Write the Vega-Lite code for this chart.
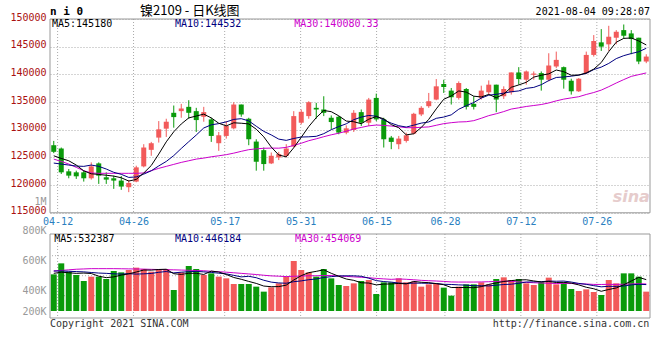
{
"$schema": "https://vega.github.io/schema/vega-lite/v6.json",
"width": 600, "height": 299,
"autosize": {"type": "none"},
"padding": {"left": 50, "top": 19, "right": 10, "bottom": 42},
"background": "#ffffff",
"config": {"view": {"stroke": null}, "axis": {"labelFont": "DejaVu Sans Mono", "labelFontSize": 10}, "text": {"font": "DejaVu Sans Mono", "fontSize": 10}},
"datasets": {"one": [{}], "k": [
{"d":"04-09","o":127206,"h":127983,"l":125773,"c":126012,"v":623000,"m5":125295,"m10":123981,"m30":124698,"v5":640000,"v10":680000,"v30":680000},
{"d":"04-12","o":126609,"h":126788,"l":122010,"c":122308,"v":810000,"m5":124818,"m10":123802,"m30":124280,"v5":660000,"v10":680000,"v30":690000},
{"d":"04-13","o":122488,"h":122906,"l":121233,"c":121711,"v":669000,"m5":124399,"m10":123623,"m30":123802,"v5":650000,"v10":675000,"v30":700000},
{"d":"04-14","o":122308,"h":122607,"l":121115,"c":121591,"v":612000,"m5":123623,"m10":123443,"m30":123205,"v5":640000,"v10":670000,"v30":710000},
{"d":"04-15","o":122308,"h":122607,"l":120636,"c":121233,"v":510000,"m5":122571,"m10":123384,"m30":122608,"v5":645000,"v10":665000,"v30":715000},
{"d":"04-16","o":121233,"h":124101,"l":120995,"c":123384,"v":584000,"m5":122045,"m10":123623,"m30":122190,"v5":637000,"v10":655000,"v30":720000},
{"d":"04-19","o":123921,"h":124101,"l":120218,"c":121711,"v":584000,"m5":121926,"m10":123384,"m30":122130,"v5":592000,"v10":645000,"v30":720000},
{"d":"04-20","o":121413,"h":122308,"l":120218,"c":120995,"v":544000,"m5":121783,"m10":122906,"m30":122130,"v5":567000,"v10":640000,"v30":720000},
{"d":"04-21","o":121233,"h":121711,"l":119322,"c":120815,"v":680000,"m5":121628,"m10":122309,"m30":122130,"v5":580000,"v10":632000,"v30":720000},
{"d":"04-22","o":120815,"h":121651,"l":119143,"c":119740,"v":657000,"m5":121329,"m10":121950,"m30":122130,"v5":610000,"v10":627000,"v30":718000},
{"d":"04-23","o":119621,"h":120935,"l":118725,"c":120397,"v":697000,"m5":120732,"m10":121389,"m30":122130,"v5":632000,"v10":635000,"v30":716000},
{"d":"04-26","o":120636,"h":123503,"l":120517,"c":123204,"v":737000,"m5":121030,"m10":121478,"m30":122130,"v5":663000,"v10":627000,"v30":714000},
{"d":"04-27","o":123384,"h":127386,"l":123204,"c":126789,"v":714000,"m5":122189,"m10":121986,"m30":122190,"v5":697000,"v10":632000,"v30":712000},
{"d":"04-28","o":126370,"h":127804,"l":125295,"c":127565,"v":669000,"m5":123539,"m10":122583,"m30":122608,"v5":695000,"v10":638000,"v30":708000},
{"d":"04-29","o":128580,"h":131567,"l":127684,"c":130073,"v":714000,"m5":125606,"m10":123467,"m30":123026,"v5":706000,"v10":658000,"v30":705000},
{"d":"04-30","o":130193,"h":131985,"l":128700,"c":131447,"v":714000,"m5":127816,"m10":124274,"m30":123384,"v5":710000,"v10":671000,"v30":702000},
{"d":"05-06","o":133060,"h":134374,"l":130372,"c":132284,"v":357000,"m5":129632,"m10":125331,"m30":123743,"v5":634000,"v10":648000,"v30":700000},
{"d":"05-07","o":133359,"h":134673,"l":132164,"c":133837,"v":657000,"m5":131041,"m10":126615,"m30":124101,"v5":622000,"v10":660000,"v30":696000},
{"d":"05-10","o":134135,"h":135330,"l":131985,"c":133060,"v":765000,"m5":132140,"m10":127840,"m30":124399,"v5":641000,"v10":668000,"v30":692000},
{"d":"05-11","o":133359,"h":133956,"l":129596,"c":131746,"v":714000,"m5":132475,"m10":129040,"m30":124698,"v5":641000,"v10":674000,"v30":688000},
{"d":"05-12","o":132343,"h":134135,"l":131447,"c":133180,"v":612000,"m5":132821,"m10":130319,"m30":124877,"v5":621000,"v10":665000,"v30":684000},
{"d":"05-13","o":131865,"h":132164,"l":127804,"c":128879,"v":640000,"m5":132140,"m10":130886,"m30":125116,"v5":678000,"v10":656000,"v30":676000},
{"d":"05-14","o":127565,"h":129596,"l":126191,"c":128999,"v":584000,"m5":131173,"m10":131107,"m30":125295,"v5":663000,"v10":643000,"v30":668000},
{"d":"05-17","o":128879,"h":131567,"l":128401,"c":130671,"v":555000,"m5":130695,"m10":131418,"m30":125500,"v5":621000,"v10":631000,"v30":660000},
{"d":"05-18","o":130253,"h":134971,"l":130073,"c":134553,"v":459000,"m5":131256,"m10":131866,"m30":125773,"v5":570000,"v10":606000,"v30":650000},
{"d":"05-19","o":134553,"h":134553,"l":132343,"c":132761,"v":459000,"m5":131173,"m10":131997,"m30":126100,"v5":539000,"v10":580000,"v30":640000},
{"d":"05-20","o":131985,"h":132164,"l":127207,"c":128282,"v":459000,"m5":131053,"m10":131597,"m30":126400,"v5":503000,"v10":590000,"v30":630000},
{"d":"05-21","o":127863,"h":128282,"l":122607,"c":124220,"v":414000,"m5":130097,"m10":130635,"m30":126550,"v5":469000,"v10":566000,"v30":620000},
{"d":"05-24","o":126311,"h":126789,"l":122607,"c":123802,"v":329000,"m5":128724,"m10":129709,"m30":126650,"v5":424000,"v10":523000,"v30":608000},
{"d":"05-25","o":123921,"h":125892,"l":123800,"c":125295,"v":402000,"m5":126872,"m10":129064,"m30":126685,"v5":413000,"v10":491000,"v30":597000},
{"d":"05-26","o":124997,"h":126012,"l":124519,"c":125594,"v":470000,"m5":125439,"m10":128306,"m30":126671,"v5":415000,"v10":477000,"v30":592000},
{"d":"05-27","o":125295,"h":127386,"l":124997,"c":126609,"v":584000,"m5":125104,"m10":128079,"m30":126814,"v5":440000,"v10":472000,"v30":585000},
{"d":"05-28","o":126968,"h":133359,"l":126789,"c":132463,"v":850000,"m5":126753,"m10":128425,"m30":127173,"v5":527000,"v10":498000,"v30":591000},
{"d":"05-31","o":131268,"h":133657,"l":130969,"c":133239,"v":697000,"m5":128640,"m10":128682,"m30":127561,"v5":601000,"v10":512000,"v30":594000},
{"d":"06-01","o":132463,"h":135150,"l":131985,"c":134971,"v":657000,"m5":130575,"m10":128724,"m30":128019,"v5":652000,"v10":532000,"v30":599000},
{"d":"06-02","o":133956,"h":134852,"l":131985,"c":133657,"v":584000,"m5":132188,"m10":128813,"m30":128361,"v5":674000,"v10":545000,"v30":599000},
{"d":"06-03","o":133657,"h":136046,"l":132463,"c":133060,"v":714000,"m5":133478,"m10":129291,"m30":128740,"v5":700000,"v10":570000,"v30":603000},
{"d":"06-04","o":132164,"h":132582,"l":130073,"c":131388,"v":555000,"m5":133263,"m10":130008,"m30":129086,"v5":641000,"v10":584000,"v30":603000},
{"d":"06-07","o":132343,"h":132463,"l":129178,"c":129476,"v":442000,"m5":132510,"m10":130575,"m30":129375,"v5":590000,"v10":596000,"v30":595000},
{"d":"06-08","o":129476,"h":130790,"l":129178,"c":130253,"v":425000,"m5":131567,"m10":131071,"m30":129725,"v5":544000,"v10":598000,"v30":588000},
{"d":"06-09","o":129954,"h":133538,"l":129596,"c":133060,"v":470000,"m5":131447,"m10":131818,"m30":130147,"v5":521000,"v10":598000,"v30":580000},
{"d":"06-10","o":133180,"h":133657,"l":130671,"c":131268,"v":510000,"m5":131089,"m10":132284,"m30":130416,"v5":480000,"v10":590000,"v30":573000},
{"d":"06-11","o":131268,"h":135748,"l":130671,"c":135449,"v":527000,"m5":131901,"m10":132582,"m30":130705,"v5":475000,"v10":558000,"v30":566000},
{"d":"06-15","o":135748,"h":136524,"l":131567,"c":131865,"v":289000,"m5":132379,"m10":132445,"m30":130848,"v5":444000,"v10":517000,"v30":554000},
{"d":"06-16","o":131865,"h":132164,"l":126788,"c":128282,"v":487000,"m5":131985,"m10":131776,"m30":130788,"v5":457000,"v10":500000,"v30":546000},
{"d":"06-17","o":128580,"h":128879,"l":126490,"c":127804,"v":487000,"m5":130934,"m10":131191,"m30":130667,"v5":460000,"v10":491000,"v30":538000},
{"d":"06-18","o":127386,"h":128879,"l":126490,"c":128401,"v":555000,"m5":130360,"m10":130725,"m30":130537,"v5":469000,"v10":475000,"v30":545000},
{"d":"06-21","o":127983,"h":129476,"l":127684,"c":128999,"v":487000,"m5":129070,"m10":130486,"m30":130376,"v5":461000,"v10":468000,"v30":539000},
{"d":"06-22","o":129297,"h":133060,"l":129178,"c":132881,"v":499000,"m5":129273,"m10":130826,"m30":130370,"v5":503000,"v10":474000,"v30":531000},
{"d":"06-23","o":132762,"h":134255,"l":132463,"c":133956,"v":414000,"m5":130408,"m10":131197,"m30":130444,"v5":488000,"v10":473000,"v30":521000},
{"d":"06-24","o":134255,"h":136644,"l":133956,"c":135151,"v":453000,"m5":131878,"m10":131406,"m30":130510,"v5":482000,"v10":471000,"v30":515000},
{"d":"06-25","o":135449,"h":139153,"l":135330,"c":137839,"v":470000,"m5":133765,"m10":132063,"m30":130808,"v5":465000,"v10":467000,"v30":510000},
{"d":"06-28","o":138257,"h":139033,"l":136644,"c":137719,"v":397000,"m5":135509,"m10":132290,"m30":131099,"v5":447000,"v10":454000,"v30":503000},
{"d":"06-29","o":137062,"h":137540,"l":134553,"c":135868,"v":261000,"m5":136107,"m10":132690,"m30":131272,"v5":399000,"v10":451000,"v30":494000},
{"d":"06-30","o":135748,"h":138735,"l":135449,"c":138436,"v":414000,"m5":137003,"m10":133705,"m30":131402,"v5":399000,"v10":444000,"v30":492000},
{"d":"07-01","o":137361,"h":137540,"l":133657,"c":134135,"v":453000,"m5":136799,"m10":134339,"m30":131447,"v5":399000,"v10":440000,"v30":492000},
{"d":"07-02","o":134673,"h":136047,"l":133657,"c":134135,"v":453000,"m5":136059,"m10":134912,"m30":131643,"v5":396000,"v10":430000,"v30":492000},
{"d":"07-05","o":135748,"h":137958,"l":135449,"c":137062,"v":487000,"m5":135927,"m10":135718,"m30":132071,"v5":414000,"v10":430000,"v30":494000},
{"d":"07-06","o":136764,"h":138914,"l":136345,"c":138137,"v":453000,"m5":136381,"m10":136244,"m30":132548,"v5":452000,"v10":426000,"v30":498000},
{"d":"07-07","o":138137,"h":138137,"l":133180,"c":135449,"v":544000,"m5":135784,"m10":136393,"m30":132887,"v5":478000,"v10":439000,"v30":503000},
{"d":"07-08","o":136047,"h":137839,"l":135569,"c":137361,"v":572000,"m5":136429,"m10":136614,"m30":133279,"v5":502000,"v10":450000,"v30":506000},
{"d":"07-09","o":136764,"h":140347,"l":136345,"c":140347,"v":527000,"m5":137671,"m10":136865,"m30":133737,"v5":517000,"v10":456000,"v30":504000},
{"d":"07-12","o":140347,"h":141303,"l":138137,"c":139153,"v":544000,"m5":138089,"m10":137008,"m30":133960,"v5":528000,"v10":471000,"v30":494000},
{"d":"07-13","o":139033,"h":140706,"l":138137,"c":140527,"v":470000,"m5":138567,"m10":137474,"m30":134203,"v5":531000,"v10":492000,"v30":487000},
{"d":"07-14","o":139930,"h":140527,"l":139034,"c":140150,"v":442000,"m5":139508,"m10":137646,"m30":134376,"v5":511000,"v10":495000,"v30":480000},
{"d":"07-15","o":140228,"h":140527,"l":137063,"c":139034,"v":487000,"m5":139842,"m10":138136,"m30":134555,"v5":494000,"v10":498000,"v30":476000},
{"d":"07-16","o":139034,"h":143812,"l":138735,"c":141602,"v":567000,"m5":140093,"m10":138882,"m30":134840,"v5":502000,"v10":509000,"v30":471000},
{"d":"07-19","o":141423,"h":144111,"l":141124,"c":142617,"v":453000,"m5":140786,"m10":139438,"m30":135214,"v5":484000,"v10":506000,"v30":468000},
{"d":"07-20","o":141303,"h":141423,"l":137421,"c":139034,"v":487000,"m5":140487,"m10":139527,"m30":135532,"v5":487000,"v10":509000,"v30":469000},
{"d":"07-21","o":138854,"h":139213,"l":136346,"c":136943,"v":374000,"m5":139846,"m10":139677,"m30":135755,"v5":474000,"v10":492000,"v30":468000},
{"d":"07-22","o":136943,"h":139332,"l":136824,"c":139213,"v":340000,"m5":139882,"m10":139862,"m30":135961,"v5":444000,"v10":469000,"v30":463000},
{"d":"07-23","o":140228,"h":144111,"l":140049,"c":143513,"v":368000,"m5":140264,"m10":140179,"m30":136369,"v5":404000,"v10":453000,"v30":459000},
{"d":"07-26","o":143513,"h":147097,"l":143215,"c":146022,"v":323000,"m5":140945,"m10":140866,"m30":136721,"v5":378000,"v10":431000,"v30":452000},
{"d":"07-27","o":145783,"h":148172,"l":144230,"c":145007,"v":272000,"m5":142140,"m10":141314,"m30":137159,"v5":335000,"v10":411000,"v30":451000},
{"d":"07-28","o":145425,"h":148770,"l":144230,"c":146799,"v":527000,"m5":144111,"m10":141978,"m30":137776,"v5":366000,"v10":420000,"v30":453000},
{"d":"07-29","o":146619,"h":147993,"l":145425,"c":147695,"v":470000,"m5":145807,"m10":142845,"m30":138440,"v5":392000,"v10":418000,"v30":452000},
{"d":"07-30","o":147993,"h":149009,"l":146500,"c":146978,"v":640000,"m5":146500,"m10":143382,"m30":139059,"v5":446000,"v10":425000,"v30":455000},
{"d":"08-02","o":147396,"h":147993,"l":143633,"c":146381,"v":640000,"m5":146572,"m10":143759,"m30":139638,"v5":510000,"v10":444000,"v30":460000},
{"d":"08-03","o":146619,"h":146619,"l":141841,"c":142319,"v":584000,"m5":146034,"m10":144087,"m30":139953,"v5":572000,"v10":454000,"v30":463000},
{"d":"08-04","o":142319,"h":143633,"l":142020,"c":143215,"v":329000,"m5":145318,"m10":144714,"m30":140261,"v5":533000,"v10":449000,"v30":460000}
]},
"resolve": {"scale": {"x": "independent", "y": "independent"}, "axis": {"x": "independent", "y": "independent"}},
"layer": [
{
 "data": {"name": "k"},
 "layer": [
  {"mark": {"type": "point", "opacity": 0}, "encoding": {"x": {"field": "d", "type": "ordinal", "scale": {"type": "point", "padding": 0}, "axis": {"values": ["04-12","04-26","05-17","05-31","06-15","06-28","07-12","07-26"], "orient": "bottom", "offset": -105, "labelAngle": 0, "domain": false, "ticks": false, "tickSize": 0, "grid": false, "labelColor": "#2a7fbf", "labelPadding": 3, "labelOverlap": false, "title": null}}}},
  {"transform": [{"filter": {"field": "d", "oneOf": ["04-12","04-26","05-17","05-31","06-15","06-28","07-12","07-26"]}}], "mark": {"type": "rule", "color": "#aaaaaa", "strokeDash": [1, 2]}, "encoding": {"x": {"field": "d", "type": "ordinal"}, "y": {"datum": 150000, "scale": {"domain": [96000, 150000], "nice": false, "zero": false}, "axis": null}, "y2": {"datum": 115000}}},
  {"transform": [{"filter": {"field": "d", "oneOf": ["04-12","04-26","05-17","05-31","06-15","06-28","07-12","07-26"]}}], "mark": {"type": "rule", "color": "#aaaaaa", "strokeDash": [1, 2]}, "encoding": {"x": {"field": "d", "type": "ordinal"}, "y": {"datum": 111171, "axis": null}, "y2": {"datum": 96000}}}
 ]
},
{
 "data": {"name": "k"},
 "layer": [
  {"mark": {"type": "rule", "strokeWidth": 1}, "encoding": {
    "x": {"field": "d", "type": "ordinal", "scale": {"type": "band", "paddingInner": 0, "paddingOuter": 0}, "axis": null},
    "y": {"field": "l", "type": "quantitative", "scale": {"domain": [96000, 150000], "nice": false, "zero": false}, "axis": {"orient": "left", "values": [115000,120000,125000,130000,135000,140000,145000,150000], "format": "d", "grid": true, "gridColor": "#aaaaaa", "gridDash": [1, 2], "domain": false, "ticks": false, "tickSize": 0, "labelPadding": 4, "labelColor": "#aa1111", "labelOffset": -2, "labelOverlap": false, "title": null}},
    "y2": {"field": "h"},
    "color": {"condition": {"test": "datum.c >= datum.o", "value": "#f25a5a"}, "value": "#0a9a0a"}}},
  {"mark": {"type": "bar", "width": 5}, "encoding": {
    "x": {"field": "d", "type": "ordinal"},
    "y": {"field": "o", "type": "quantitative"},
    "y2": {"field": "c"},
    "color": {"condition": {"test": "datum.c >= datum.o", "value": "#f25a5a"}, "value": "#0a9a0a"}}},
  {"mark": {"type": "line", "strokeWidth": 1, "color": "#cc00cc"}, "encoding": {"x": {"field": "d", "type": "ordinal"}, "y": {"field": "m30", "type": "quantitative"}}},
  {"mark": {"type": "line", "strokeWidth": 1, "color": "#000080"}, "encoding": {"x": {"field": "d", "type": "ordinal"}, "y": {"field": "m10", "type": "quantitative"}}},
  {"mark": {"type": "line", "strokeWidth": 1, "color": "#000000"}, "encoding": {"x": {"field": "d", "type": "ordinal"}, "y": {"field": "m5", "type": "quantitative"}}},
  {"data": {"name": "one"}, "mark": {"type": "rule", "color": "#999999"}, "encoding": {"y": {"datum": 150000}}},
  {"data": {"name": "one"}, "mark": {"type": "rule", "color": "#999999"}, "encoding": {"y": {"datum": 115000}}},
  {"data": {"values": [{"d": "04-09"}]}, "mark": {"type": "rule", "color": "#999999"}, "encoding": {"x": {"field": "d", "type": "ordinal", "bandPosition": 0}, "y": {"datum": 150000}, "y2": {"datum": 115000}}},
  {"data": {"values": [{"d": "08-04"}]}, "mark": {"type": "rule", "color": "#999999"}, "encoding": {"x": {"field": "d", "type": "ordinal", "bandPosition": 1}, "y": {"datum": 150000}, "y2": {"datum": 115000}}},
  {"data": {"name": "one"}, "mark": {"type": "text", "align": "left", "baseline": "middle", "fontSize": 11, "fontWeight": "bold", "color": "#000000", "dx": -3.75}, "encoding": {"x": {"datum": "04-09", "type": "ordinal"}, "y": {"datum": 151354}, "text": {"value": "n i 0"}}},
  {"data": {"name": "one"}, "mark": {"type": "text", "align": "left", "baseline": "middle", "font": "Noto Sans CJK SC", "fontSize": 13, "color": "#000000", "dx": -3.75}, "encoding": {"x": {"datum": "04-27", "type": "ordinal"}, "y": {"datum": 151535}, "text": {"value": "镍2109  -  日K线图"}}},
  {"data": {"name": "one"}, "mark": {"type": "text", "align": "right", "baseline": "middle", "color": "#000000", "dx": 3.75}, "encoding": {"x": {"datum": "08-04", "type": "ordinal"}, "y": {"datum": 151264}, "text": {"value": "2021-08-04 09:28:07"}}},
  {"data": {"name": "one"}, "mark": {"type": "text", "align": "left", "baseline": "middle", "color": "#000000", "dx": -1.75}, "encoding": {"x": {"datum": "04-09", "type": "ordinal"}, "y": {"datum": 149151}, "text": {"value": "MA5:145180"}}},
  {"data": {"name": "one"}, "mark": {"type": "text", "align": "left", "baseline": "middle", "color": "#000080", "dx": 1.25}, "encoding": {"x": {"datum": "05-06", "type": "ordinal"}, "y": {"datum": 149151}, "text": {"value": "MA10:144532"}}},
  {"data": {"name": "one"}, "mark": {"type": "text", "align": "left", "baseline": "middle", "color": "#cc00cc", "dx": 0.5}, "encoding": {"x": {"datum": "05-28", "type": "ordinal"}, "y": {"datum": 149151}, "text": {"value": "MA30:140080.33"}}},
  {"data": {"name": "one"}, "mark": {"type": "text", "align": "center", "baseline": "middle", "font": "DejaVu Sans", "fontSize": 16, "fontWeight": "bold", "fontStyle": "italic", "color": "#e6cccc"}, "encoding": {"x": {"datum": "08-02", "type": "ordinal"}, "y": {"datum": 117853}, "text": {"value": "sina"}}}
 ]
},
{
 "data": {"name": "k"},
 "layer": [
  {"data": {"name": "one"}, "mark": {"type": "rule", "color": "#aaaaaa", "strokeDash": [1, 2]}, "encoding": {"y": {"datum": 940000}}},
  {"data": {"name": "one"}, "mark": {"type": "rule", "color": "#aaaaaa", "strokeDash": [1, 2]}, "encoding": {"y": {"datum": 600000}}},
  {"data": {"name": "one"}, "mark": {"type": "rule", "color": "#aaaaaa", "strokeDash": [1, 2]}, "encoding": {"y": {"datum": 260000}}},
  {"mark": {"type": "bar", "width": 6}, "encoding": {
    "x": {"field": "d", "type": "ordinal", "scale": {"type": "band", "paddingInner": 0, "paddingOuter": 0}, "axis": null},
    "y": {"field": "v", "type": "quantitative", "scale": {"domain": [-119000, 4964000], "nice": false, "zero": false}, "axis": {"orient": "left", "values": [0, 357000, 867000, 1377000, 1870000], "labelExpr": "datum.value == 0 ? '200K' : datum.value == 357000 ? '400K' : datum.value == 867000 ? '600K' : datum.value == 1377000 ? '800K' : '1M'", "grid": false, "domain": false, "ticks": false, "tickSize": 0, "labelPadding": 4, "labelColor": "#999999", "labelOverlap": false, "title": null}},
    "y2": {"datum": 0},
    "color": {"condition": {"test": "datum.c >= datum.o", "value": "#f25a5a"}, "value": "#0a9a0a"}}},
  {"mark": {"type": "line", "strokeWidth": 1, "color": "#cc00cc"}, "encoding": {"x": {"field": "d", "type": "ordinal"}, "y": {"field": "v30", "type": "quantitative"}}},
  {"mark": {"type": "line", "strokeWidth": 1, "color": "#000080"}, "encoding": {"x": {"field": "d", "type": "ordinal"}, "y": {"field": "v10", "type": "quantitative"}}},
  {"mark": {"type": "line", "strokeWidth": 1, "color": "#000000"}, "encoding": {"x": {"field": "d", "type": "ordinal"}, "y": {"field": "v5", "type": "quantitative"}}},
  {"data": {"name": "one"}, "mark": {"type": "rule", "color": "#999999"}, "encoding": {"y": {"datum": 1309000}}},
  {"data": {"name": "one"}, "mark": {"type": "rule", "color": "#999999"}, "encoding": {"y": {"datum": -119000}}},
  {"data": {"values": [{"d": "04-09"}]}, "mark": {"type": "rule", "color": "#999999"}, "encoding": {"x": {"field": "d", "type": "ordinal", "bandPosition": 0}, "y": {"datum": 1309000}, "y2": {"datum": -119000}}},
  {"data": {"values": [{"d": "08-04"}]}, "mark": {"type": "rule", "color": "#999999"}, "encoding": {"x": {"field": "d", "type": "ordinal", "bandPosition": 1}, "y": {"datum": 1309000}, "y2": {"datum": -119000}}},
  {"data": {"name": "one"}, "mark": {"type": "text", "align": "left", "baseline": "middle", "color": "#000000", "dx": 0.5}, "encoding": {"x": {"datum": "04-09", "type": "ordinal"}, "y": {"datum": 1229000}, "text": {"value": "MA5:532387"}}},
  {"data": {"name": "one"}, "mark": {"type": "text", "align": "left", "baseline": "middle", "color": "#000080", "dx": 1.25}, "encoding": {"x": {"datum": "05-06", "type": "ordinal"}, "y": {"datum": 1229000}, "text": {"value": "MA10:446184"}}},
  {"data": {"name": "one"}, "mark": {"type": "text", "align": "left", "baseline": "middle", "color": "#cc00cc", "dx": 1.25}, "encoding": {"x": {"datum": "05-28", "type": "ordinal"}, "y": {"datum": 1229000}, "text": {"value": "MA30:454069"}}},
  {"data": {"name": "one"}, "mark": {"type": "text", "align": "left", "baseline": "middle", "color": "#333333", "dx": -3.75}, "encoding": {"x": {"datum": "04-09", "type": "ordinal"}, "y": {"datum": -221000}, "text": {"value": "Copyright 2021 SINA.COM"}}},
  {"data": {"name": "one"}, "mark": {"type": "text", "align": "right", "baseline": "middle", "color": "#333333", "dx": 3}, "encoding": {"x": {"datum": "08-04", "type": "ordinal"}, "y": {"datum": -221000}, "text": {"value": "http://finance.sina.com.cn"}}}
 ]
}
]
}
